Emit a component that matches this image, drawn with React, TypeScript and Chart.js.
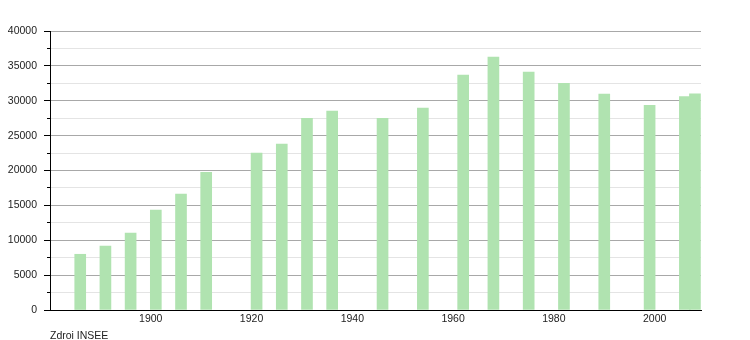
import React, { useEffect, useRef } from "react";
import { Chart, registerables } from "chart.js";

Chart.register(...registerables);

const years = [1886, 1891, 1896, 1901, 1906, 1911, 1921, 1926, 1931, 1936, 1946, 1954, 1962, 1968, 1975, 1982, 1990, 1999, 2006, 2008];
const population = [7990, 9180, 11040, 14340, 16630, 19740, 22510, 23800, 27480, 28530, 27480, 28960, 33690, 36270, 34120, 32500, 30970, 29340, 30600, 31000];
const xTickLabels = [1900, 1920, 1940, 1960, 1980, 2000];
const sourceText = "Zdroi INSEE";

const FONT = "'Liberation Sans', Arial, sans-serif";

const extras = {
  id: "extras",
  afterDraw(chart: any) {
    const ctx = chart.ctx;
    const y = chart.scales.y;
    const left = chart.chartArea.left;
    ctx.save();
    ctx.strokeStyle = "#000";
    ctx.lineWidth = 1;
    for (let v = 0; v <= 40000; v += 2500) {
      const py = Math.round(y.getPixelForValue(v) - 0.5) + 0.5;
      const len = v % 5000 === 0 ? 6 : 3;
      ctx.beginPath();
      ctx.moveTo(left - len, py);
      ctx.lineTo(left, py);
      ctx.stroke();
    }
    ctx.fillStyle = "#222";
    ctx.font = `10.5px ${FONT}`;
    ctx.textAlign = "left";
    ctx.textBaseline = "middle";
    ctx.fillText(sourceText, 50, 336);
    ctx.restore();
  },
};

export default function App() {
  const ref = useRef<HTMLCanvasElement | null>(null);
  useEffect(() => {
    document.body.style.margin = "0";
    const chart = new Chart(ref.current as HTMLCanvasElement, {
      type: "bar",
      data: {
        datasets: [
          {
            data: years.map((x, i) => ({ x, y: population[i] })),
            backgroundColor: "#b0e3b0",
            borderWidth: 0,
            barThickness: 11,
          },
        ],
      },
      options: {
        animation: false,
        responsive: false,
        maintainAspectRatio: false,
        layout: { padding: { left: 0, top: 31, right: 49, bottom: 0 } },
        plugins: { legend: { display: false }, tooltip: { enabled: false } },
        scales: {
          x: {
            type: "linear",
            offset: false,
            min: 1880,
            max: 2009.2,
            afterFit: (s: any) => { s.height = 30; },
            afterBuildTicks: (s: any) => { s.ticks = xTickLabels.map((v) => ({ value: v })); },
            grid: { display: false, drawTicks: false, offset: false },
            border: { display: true, color: "#000", width: 1 },
            ticks: {
              autoSkip: false,
              maxRotation: 0,
              padding: 3,
              color: "#222",
              font: { family: FONT, size: 10.5 },
              callback: (v: any) => String(v),
            },
          },
          y: {
            min: 0,
            max: 40000,
            afterFit: (s: any) => { s.width = 50; },
            border: { display: true, color: "#000", width: 1 },
            grid: {
              drawTicks: false,
              color: (c: any) => (c.tick && c.tick.value % 5000 === 0 ? "#a8a8a8" : "#e4e4e4"),
              lineWidth: 1,
            },
            ticks: {
              stepSize: 2500,
              padding: 13,
              color: "#222",
              font: { family: FONT, size: 10.5 },
              callback: (v: any) => (v % 5000 === 0 ? String(v) : ""),
            },
          },
        },
      },
      plugins: [extras],
    });
    return () => chart.destroy();
  }, []);
  return <canvas ref={ref} width={750} height={340} style={{ display: "block" }} />;
}
